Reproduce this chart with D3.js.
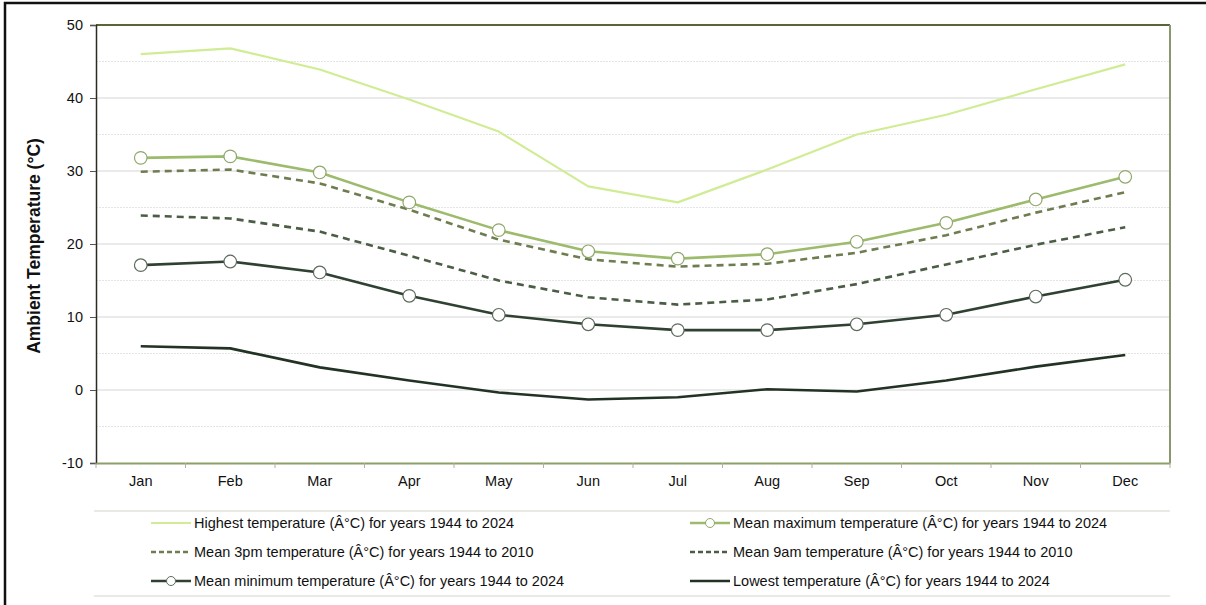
<!DOCTYPE html>
<html><head><meta charset="utf-8">
<script src="https://cdn.jsdelivr.net/npm/d3@7"></script>
<style>body{margin:0;background:#fff;font-family:"Liberation Sans",Arial,sans-serif;}</style>
</head><body><svg id="c" width="1206" height="605"></svg>
<script>
const months = ["Jan","Feb","Mar","Apr","May","Jun","Jul","Aug","Sep","Oct","Nov","Dec"];
const yTicks = [-10,0,10,20,30,40,50];
const highest = [46.0,46.8,43.9,39.8,35.4,27.9,25.7,30.2,35.0,37.7,41.2,44.6];
const meanMax = [31.8,32.0,29.8,25.7,21.9,19.0,18.0,18.6,20.3,22.9,26.1,29.2];
const mean3pm = [29.9,30.2,28.3,24.7,20.6,17.9,16.9,17.3,18.8,21.2,24.3,27.1];
const mean9am = [23.9,23.5,21.7,18.4,15.0,12.7,11.7,12.4,14.5,17.2,19.9,22.3];
const meanMin = [17.1,17.6,16.1,12.9,10.3,9.0,8.2,8.2,9.0,10.3,12.8,15.1];
const lowest = [6.0,5.7,3.1,1.3,-0.35,-1.3,-1.0,0.1,-0.2,1.3,3.2,4.8];
const seriesNames = [
 "Highest temperature (Â°C) for years 1944 to 2024",
 "Mean maximum temperature (Â°C) for years 1944 to 2024",
 "Mean 3pm temperature (Â°C) for years 1944 to 2010",
 "Mean 9am temperature (Â°C) for years 1944 to 2010",
 "Mean minimum temperature (Â°C) for years 1944 to 2024",
 "Lowest temperature (Â°C) for years 1944 to 2024"
];

const series = [
 {name:seriesNames[0], data:highest, color:"#d0ec94", w:2.2, dash:null, marker:false},
 {name:seriesNames[1], data:meanMax, color:"#9cbb6c", w:2.6, dash:null, marker:true, mstroke:"#8fa76a"},
 {name:seriesNames[2], data:mean3pm, color:"#6e7d50", w:2.6, dash:"7,5", marker:false},
 {name:seriesNames[3], data:mean9am, color:"#4b5d45", w:2.6, dash:"7,5", marker:false},
 {name:seriesNames[4], data:meanMin, color:"#2f4132", w:2.6, dash:null, marker:true, mstroke:"#5d6b5c"},
 {name:seriesNames[5], data:lowest, color:"#223225", w:2.6, dash:null, marker:false}
];

const FONT = "Liberation Sans, Arial, sans-serif";
const svg = d3.select("#c");
svg.append("rect").attr("x",5).attr("y",3).attr("width",1220).attr("height",620)
  .attr("fill","none").attr("stroke","#111").attr("stroke-width",2.5);

const L=96, T=25, R=1170, B=463;
const x = d3.scaleBand().domain(months).range([L,R]);
const y = d3.scaleLinear().domain([-10,50]).range([B,T]);

const g = svg.append("g");
d3.range(-5,50,10).forEach(v=>{
  g.append("line").attr("x1",L).attr("x2",R).attr("y1",y(v)).attr("y2",y(v))
   .attr("stroke","#e4e4e4").attr("stroke-width",1).attr("stroke-dasharray","2,1");
});
yTicks.forEach(v=>{
  if(v===-10||v===50) return;
  g.append("line").attr("x1",L).attr("x2",R).attr("y1",y(v)).attr("y2",y(v))
   .attr("stroke","#d6d6d6").attr("stroke-width",1.2);
});

svg.append("line").attr("x1",L).attr("x2",R).attr("y1",T).attr("y2",T).attr("stroke","#56663a").attr("stroke-width",2);
svg.append("line").attr("x1",R).attr("x2",R).attr("y1",T).attr("y2",B).attr("stroke","#8a9870").attr("stroke-width",2);

const yAxis = svg.append("g").attr("transform",`translate(${L},0)`)
  .call(d3.axisLeft(y).tickValues(yTicks).tickSize(6).tickPadding(7).tickFormat(d=>String(d)));
yAxis.attr("font-size",null).attr("font-family",null);
yAxis.select(".domain").attr("stroke","#2b2b20").attr("stroke-width",1.5);
yAxis.selectAll(".tick line").attr("stroke","#555");
yAxis.selectAll("text").style("font-size","14.5px").attr("fill","#111").style("font-family",FONT);

const xAxis = svg.append("g").attr("transform",`translate(0,${B})`)
  .call(d3.axisBottom(x).tickSize(0).tickPadding(13));
xAxis.attr("font-size",null).attr("font-family",null);
xAxis.select(".domain").attr("stroke","#8ca06a").attr("stroke-width",2);
xAxis.selectAll("text").style("font-size","14.5px").attr("fill","#111").style("font-family",FONT);
months.concat(["_end"]).forEach((m,i)=>{
  const xx = i<12 ? x(m) : R;
  svg.append("line").attr("x1",xx).attr("x2",xx).attr("y1",B).attr("y2",B+5).attr("stroke","#b0b0a0").attr("stroke-width",1);
});

svg.append("text").attr("transform",`translate(40,${(T+B)/2+2}) rotate(-90)`)
  .attr("text-anchor","middle").style("font-size","17.5px").style("font-family",FONT).attr("font-weight","bold").attr("fill","#111")
  .text("Ambient Temperature (°C)");

const line = d3.line().x((d,i)=>x(months[i])+x.bandwidth()/2).y(d=>y(d));
series.forEach(s=>{
  svg.append("path").datum(s.data).attr("d",line).attr("fill","none")
    .attr("stroke",s.color).attr("stroke-width",s.w).attr("stroke-dasharray",s.dash)
    .attr("stroke-linejoin","round");
});
series.forEach(s=>{
  if(!s.marker) return;
  svg.selectAll(null).data(s.data).enter().append("circle")
    .attr("cx",(d,i)=>x(months[i])+x.bandwidth()/2).attr("cy",d=>y(d)).attr("r",6.3)
    .attr("fill","#fff").attr("stroke",s.mstroke).attr("stroke-width",1.2);
});

svg.append("line").attr("x1",94).attr("x2",1170).attr("y1",511).attr("y2",511).attr("stroke","#e2e2dc").attr("stroke-width",1.5);
svg.append("line").attr("x1",94).attr("x2",1170).attr("y1",596).attr("y2",596).attr("stroke","#e2e2dc").attr("stroke-width",1.5);
series.forEach((s,i)=>{
  const col = i%2, row = Math.floor(i/2);
  const lx = col===0 ? 151 : 690, ly = 523 + row*29;
  const lg = svg.append("g");
  lg.append("line").attr("x1",lx).attr("x2",lx+40).attr("y1",ly).attr("y2",ly)
    .attr("stroke",s.color).attr("stroke-width",s.w).attr("stroke-dasharray",s.dash?"5,3":null);
  if(s.marker) lg.append("circle").attr("cx",lx+20).attr("cy",ly).attr("r",4.5)
    .attr("fill","#fff").attr("stroke",s.mstroke).attr("stroke-width",1);
  lg.append("text").attr("x",lx+43).attr("y",ly+5).style("font-size","14.5px").style("font-family",FONT).attr("fill","#111").text(s.name);
});
</script></body></html>
